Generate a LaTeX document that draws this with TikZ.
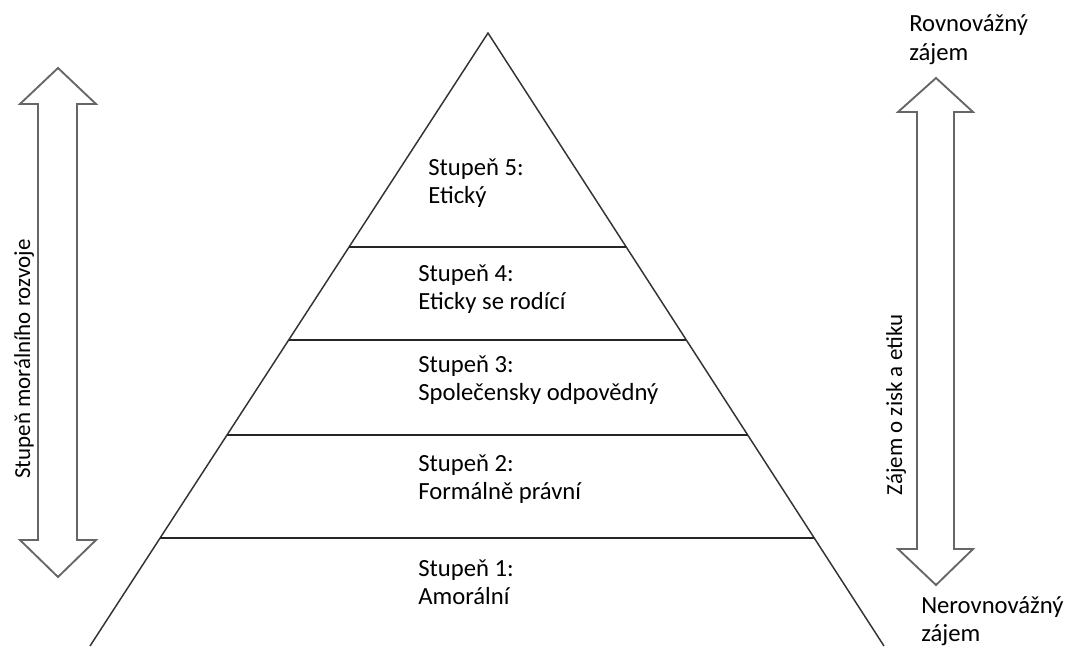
\documentclass[tikz,border=0pt]{standalone}
\usepackage{fontspec}
\setmainfont{Carlito}
\usetikzlibrary{calc}

\tikzset{
  level/.style={draw=black!85, line width=1.3pt},
  stage/.style={anchor=base west, align=left, inner sep=0pt,
    font=\fontsize{18.5}{21}\selectfont},
  side/.style={anchor=base, rotate=90, inner sep=0pt,
    font=\fontsize{17.2}{21}\selectfont},
  bigarrow/.style={draw=black!60, line width=1.4pt, line join=miter}
}

\begin{document}
\begin{tikzpicture}[x=0.75pt, y=-0.75pt]
    \useasboundingbox (0,0) rectangle (1067,646);

    % Corners of the pyramid (the base lies below the page)
    \coordinate (A) at (488, 33);
    \coordinate (BL) at (90, 646);
    \coordinate (BR) at (884, 646);

    % Draw the pyramid
    \draw[line width=1.1pt, black!80] (BL) -- (A) -- (BR);

    % Draw the levels
    \foreach \y in {247, 340, 435, 538} {
        \draw[level] ($(A)!{(\y-33)/613}!(BL)$) -- ($(A)!{(\y-33)/613}!(BR)$);
    }

    % Label the stages (base = baseline of the second line)
    \node[stage] (s5) at (428, 203) {Stupeň 5:\\Etický};
    \node[stage] (s4) at (418, 309) {Stupeň 4:\\Eticky se rodící};
    \node[stage] (s3) at (418, 400) {Stupeň 3:\\Společensky odpovědný};
    \node[stage] (s2) at (418, 499) {Stupeň 2:\\Formálně právní};
    \node[stage] (s1) at (418, 604) {Stupeň 1:\\Amorální};

    % Left double arrow
    \draw[bigarrow] (58, 68) -- (96, 104) -- (77, 104) -- (77, 540) -- (96, 540)
        -- (58, 577) -- (20, 540) -- (38, 540) -- (38, 104) -- (20, 104) -- cycle;
    \node[side] (moral) at (30, 359) {Stupeň morálního rozvoje};

    % Right double arrow
    \draw[bigarrow] (936, 78) -- (973, 112) -- (954, 112) -- (954, 549) -- (973, 549)
        -- (936, 585) -- (898, 549) -- (917, 549) -- (917, 112) -- (898, 112) -- cycle;
    \node[side] (zajem) at (902, 405) {Zájem o zisk a etiku};

    % Ends of the right arrow
    \node[stage] (rovno) at (909, 60) {Rovnovážný\\zájem};
    \node[stage] (nerovno) at (921, 641) {Nerovnovážný\\zájem};
\end{tikzpicture}
\end{document}
